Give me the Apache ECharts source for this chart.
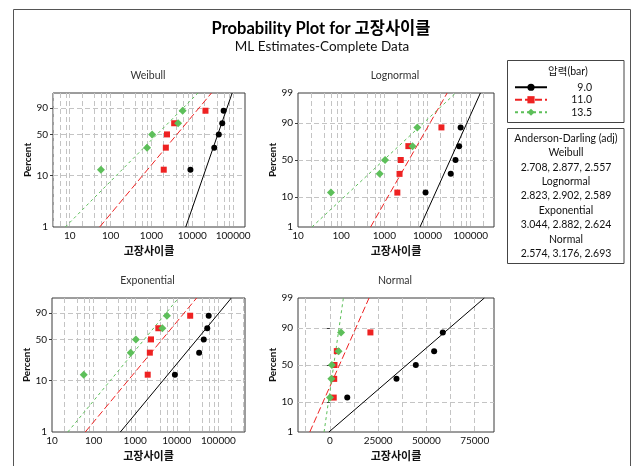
<!DOCTYPE html>
<html>
<head>
<meta charset="utf-8">
<title>Probability Plot for 고장사이클</title>
<script src="https://cdn.jsdelivr.net/npm/echarts@6/dist/echarts.min.js"></script>
<style>
  html, body { margin: 0; padding: 0; background: #fff; }
  #chart { width: 632px; height: 466px; }
</style>
</head>
<body>
<div id="chart"></div>
<script>
// 압력 groups
const groupNames = ['9.0', '11.0', '13.5']
// plotting positions (percent) of the 5 points in each group
const plotPercents = [12.9, 31.5, 50, 68.5, 87.1]
// 고장사이클 per group
const cycles90 = [9000, 34500, 44500, 54000, 58500]
const cycles110 = [2000, 2250, 2400, 3600, 21000]
const cycles135 = [58, 780, 1040, 4500, 5800]

// fitted lines: 고장사이클 at 1% and 99%, one pair per group
const fitPercents = [1, 99]
const weibullFit = [[6900, 94600], [54, 29500], [7.8, 13800]]
const lognormalFit = [[6700, 168000], [480, 28500], [21, 45000]]
const exponentialFit = [[440, 205000], [63, 30000], [24, 11000]]
const normalFit = [[-500, 80000], [-10400, 20300], [-3000, 7000]]

// tick labels
const logTicks = [10, 100, 1000, 10000, 100000]
const normalTicks = [0, 25000, 50000, 75000]
const normalGrid = [-12500, 0, 12500, 25000, 37500, 50000, 62500, 75000]
const percentGrid = [10, 50, 90]

// Anderson-Darling (adj)
const adNames = ['Weibull', 'Lognormal', 'Exponential', 'Normal']
const adValues = ['2.708, 2.877, 2.557', '2.823, 2.902, 2.589', '3.044, 2.882, 2.624', '2.574, 3.176, 2.693']

const groupCycles = [cycles90, cycles110, cycles135]
const groupColors = ['#000000', '#ee2222', '#5dbf5a']
const groupSymbols = ['circle', 'rect', 'diamond']
const groupSizes = [6, 6, 8]
const groupDash = ['solid', [7, 3], [3, 3]]

const fontLatin = "Lato, 'Noto Sans CJK KR', sans-serif"

// 역정규분포 (Acklam)
function probit (p) {
  const a = [-3.969683028665376e+01, 2.209460984245205e+02, -2.759285104469687e+02, 1.383577518672690e+02, -3.066479806614716e+01, 2.506628277459239e+00]
  const b = [-5.447609879822406e+01, 1.615858368580409e+02, -1.556989798598866e+02, 6.680131188771972e+01, -1.328068155288572e+01]
  const c = [-7.784894002430293e-03, -3.223964580411365e-01, -2.400758277161838e+00, -2.549732539343734e+00, 4.374664141464968e+00, 2.938163982698783e+00]
  const d = [7.784695709041462e-03, 3.224671290700398e-01, 2.445134137142996e+00, 3.754408661907416e+00]
  const pl = 0.02425
  let q, r
  if (p < pl) {
    q = Math.sqrt(-2 * Math.log(p))
    return (((((c[0] * q + c[1]) * q + c[2]) * q + c[3]) * q + c[4]) * q + c[5]) / ((((d[0] * q + d[1]) * q + d[2]) * q + d[3]) * q + 1)
  }
  if (p > 1 - pl) {
    q = Math.sqrt(-2 * Math.log(1 - p))
    return -(((((c[0] * q + c[1]) * q + c[2]) * q + c[3]) * q + c[4]) * q + c[5]) / ((((d[0] * q + d[1]) * q + d[2]) * q + d[3]) * q + 1)
  }
  q = p - 0.5
  r = q * q
  return (((((a[0] * r + a[1]) * r + a[2]) * r + a[3]) * r + a[4]) * r + a[5]) * q / (((((b[0] * r + b[1]) * r + b[2]) * r + b[3]) * r + b[4]) * r + 1)
}

const probScales = {
  weibull: p => Math.log(-Math.log(1 - p / 100)),
  normal: p => probit(p / 100)
}
const valueScales = {
  log: v => Math.log10(v),
  linear: v => v
}

// 4 panels
const panels = [
  { title: 'Weibull', left: 53, top: 93, width: 192, height: 134, xMin: 0.59, xMax: 5.29, scale: 'log', prob: 'weibull', fit: weibullFit, yLabels: [1, 10, 50, 90] },
  { title: 'Lognormal', left: 298, top: 93, width: 196, height: 134, xMin: 1, xMax: 5.54, scale: 'log', prob: 'normal', fit: lognormalFit, yLabels: [1, 10, 50, 90, 99] },
  { title: 'Exponential', left: 52, top: 298, width: 193, height: 134, xMin: 1, xMax: 5.64, scale: 'log', prob: 'weibull', fit: exponentialFit, yLabels: [1, 10, 50, 90] },
  { title: 'Normal', left: 298, top: 298, width: 196, height: 134, xMin: -16500, xMax: 85000, scale: 'linear', prob: 'normal', fit: normalFit, yLabels: [1, 10, 50, 90, 99] }
]

const grids = []
const xAxes = []
const yAxes = []
const lineSeries = []
const pointSeries = []
const graphics = []

panels.forEach((pn, g) => {
  const xT = valueScales[pn.scale]
  const yT = probScales[pn.prob]
  grids.push({
    left: pn.left, top: pn.top, width: pn.width, height: pn.height,
    show: true, borderColor: '#3a3a3a', borderWidth: 1, backgroundColor: '#fff'
  })

  let xGrid, xLabels
  if (pn.scale === 'log') {
    xGrid = []
    for (let k = 0; k < 7; k++) {
      [1, 2, 4, 6, 8].forEach(m => {
        const v = Math.log10(m * Math.pow(10, k))
        if (v > pn.xMin + 0.005 && v < pn.xMax - 0.005) xGrid.push(v)
      })
    }
    xLabels = logTicks.map(xT)
  } else {
    xGrid = normalGrid
    xLabels = normalTicks
  }

  xAxes.push({
    type: 'value', gridIndex: g, min: pn.xMin, max: pn.xMax,
    name: '고장사이클', nameLocation: 'middle', nameGap: 18,
    nameTextStyle: { fontFamily: 'Noto Sans CJK KR', fontWeight: 'bold', fontSize: 11, color: '#111' },
    axisLine: { show: false },
    axisTick: { show: false, customValues: xGrid },
    splitLine: { show: true, lineStyle: { color: '#c4c4c4', type: [5, 3], width: 1 } },
    axisLabel: {
      customValues: xLabels, margin: 4, fontSize: 10, color: '#111', fontFamily: fontLatin,
      formatter: v => pn.scale === 'log' ? String(Math.round(Math.pow(10, v))) : String(Math.round(v))
    }
  })

  const yTickVals = percentGrid.map(yT)
  yAxes.push({
    type: 'value', gridIndex: g, min: yT(1), max: yT(99),
    name: 'Percent', nameLocation: 'middle', nameGap: pn.left < 100 ? 20 : 18,
    nameTextStyle: { fontFamily: fontLatin, fontWeight: 'bold', fontSize: 10, color: '#111' },
    axisLine: { show: false },
    axisTick: { show: true, length: 3, customValues: yTickVals, lineStyle: { color: '#3a3a3a' } },
    splitLine: { show: true, lineStyle: { color: '#c4c4c4', type: [5, 3], width: 1 } },
    axisLabel: {
      customValues: pn.yLabels.map(yT), margin: 5, fontSize: 10, color: '#111', fontFamily: fontLatin,
      formatter: v => {
        const hit = pn.yLabels.find(p => Math.abs(yT(p) - v) < 1e-6)
        return hit === undefined ? '' : String(hit)
      }
    }
  })

  groupNames.forEach((name, k) => {
    lineSeries.push({
      name: name, type: 'line', xAxisIndex: g, yAxisIndex: g,
      data: fitPercents.map((p, i) => [xT(pn.fit[k][i]), yT(p)]),
      symbol: groupSymbols[k], showSymbol: false, symbolSize: groupSizes[k],
      itemStyle: { color: groupColors[k] },
      lineStyle: { color: groupColors[k], width: 1, type: groupDash[k] },
      silent: true, z: 2
    })
    pointSeries.push({
      name: name, type: 'scatter', xAxisIndex: g, yAxisIndex: g,
      data: groupCycles[k].map((v, i) => [xT(v), yT(plotPercents[i])]),
      symbol: groupSymbols[k], symbolSize: groupSizes[k],
      itemStyle: { color: groupColors[k], opacity: 1 },
      silent: true, z: 3
    })
  })

  graphics.push({
    type: 'text', x: pn.left + pn.width / 2 - 1, y: pn.top - 17,
    style: { text: pn.title, fontSize: 10.5, fontFamily: fontLatin, fill: '#333', textAlign: 'center', textVerticalAlign: 'middle' }
  })
})

// title, frame, legend box, AD box
graphics.push(
  { type: 'rect', shape: { x: 13.5, y: 9.5, width: 617, height: 470 }, style: { fill: 'none', stroke: '#555', lineWidth: 1 }, z: -10 },
  { type: 'text', x: 321, y: 29, style: { text: 'Probability Plot for 고장사이클', fontSize: 16.5, fontWeight: 'bold', fontFamily: fontLatin, fill: '#000', textAlign: 'center', textVerticalAlign: 'middle' } },
  { type: 'text', x: 322, y: 47, style: { text: 'ML Estimates-Complete Data', fontSize: 13.5, fontFamily: fontLatin, fill: '#111', textAlign: 'center', textVerticalAlign: 'middle' } },
  { type: 'rect', shape: { x: 507.5, y: 60.5, width: 116.5, height: 62 }, style: { fill: 'none', stroke: '#444', lineWidth: 1 } },
  { type: 'text', x: 568, y: 71.5, style: { text: '압력(bar)', fontSize: 10.5, fontFamily: fontLatin, fill: '#111', textAlign: 'center', textVerticalAlign: 'middle' } },
  { type: 'rect', shape: { x: 507.5, y: 128.5, width: 116.5, height: 135 }, style: { fill: 'none', stroke: '#444', lineWidth: 1 } }
)
const adLines = ['Anderson-Darling (adj)']
adNames.forEach((n, i) => { adLines.push(n, adValues[i]) })
adLines.forEach((t, i) => {
  graphics.push({
    type: 'text', x: 566, y: 138.5 + i * 14.4,
    style: { text: t, fontSize: 10.5, fontFamily: fontLatin, fill: '#111', textAlign: 'center', textVerticalAlign: 'middle' }
  })
})

const myChart = echarts.init(document.getElementById('chart'))
const option = {
  animation: false,
  backgroundColor: '#fff',
  grid: grids,
  xAxis: xAxes,
  yAxis: yAxes,
  legend: {
    data: groupNames, orient: 'vertical', left: 509, top: 77,
    itemWidth: 32, itemHeight: 9, itemGap: 2, selectedMode: false,
    formatter: name => '{v|' + name + '}',
    textStyle: {
      fontSize: 10.5, color: '#111', fontFamily: fontLatin,
      rich: { v: { width: 40, align: 'right', fontSize: 10.5, fontFamily: fontLatin, color: '#111' } }
    }
  },
  series: lineSeries.concat(pointSeries),
  graphic: graphics
}
myChart.setOption(option)
window.onresize = function () {
  myChart.resize()
}
</script>
</body>
</html>
